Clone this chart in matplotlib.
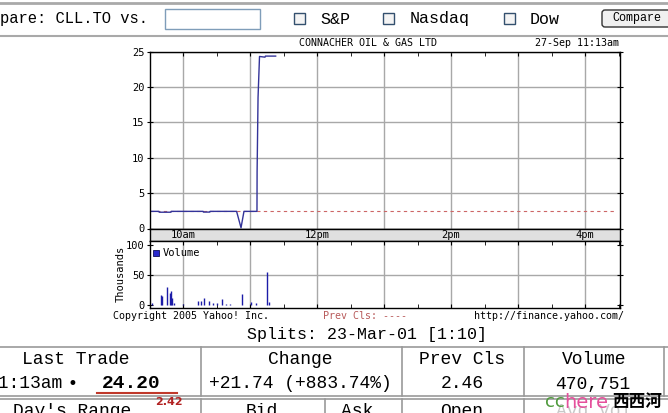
import matplotlib
matplotlib.use('Agg')
import matplotlib.pyplot as plt
from matplotlib.patches import Rectangle, FancyBboxPatch

W, H = 668, 413

# intraday trades CLL.TO, 27-Sep (hour of day, price)
price_time = [9.50, 9.64, 9.645, 9.82, 9.825, 10.30, 10.305, 10.40, 10.405,
              10.80, 10.866, 10.91, 11.104, 11.106, 11.12, 11.142, 11.224,
              11.23, 11.383]
price = [2.42, 2.42, 2.30, 2.30, 2.42, 2.42, 2.32, 2.32, 2.42,
         2.42, 0.10, 2.42, 2.42, 8.0, 18.5, 24.3, 24.2,
         24.35, 24.35]
prev_close = 2.42

# volume in thousands
vol_time = [9.530, 9.667, 9.691, 9.766, 9.806, 9.821, 9.836, 9.866, 10.0,
            10.228, 10.269, 10.313, 10.393, 10.452, 10.512, 10.582, 10.642,
            10.701, 10.876, 11.010, 11.090, 11.258, 11.288]
vol_k = [3, 17, 15, 31, 20, 24, 12, 3, 2,
         7, 8, 12, 8, 3, 3, 10, 2,
         2, 19, 5, 3, 56, 5]

price_ticks = [0, 5, 10, 15, 20, 25]
vol_ticks = [0, 50, 100]
hours = [10, 11, 12, 13, 14, 15, 16]
half_hours = [9.5, 10.5, 11.5, 12.5, 13.5, 14.5, 15.5, 16.5]
hour_labels = {10: '10am', 12: '12pm', 14: '2pm', 16: '4pm'}

CHART_FONT = 'DejaVu Sans Mono'
PAGE_FONT = 'Liberation Mono'
GRID = '#a8a8a8'
LINE = '#333399'
BARS = '#1c1ca8'


def box(x0, y0, x1, y1):
    # pixel box (top-left origin) -> figure fraction rect
    return [x0 / W, 1 - y1 / H, (x1 - x0) / W, (y1 - y0) / H]


fig = plt.figure(figsize=(W / 100, H / 100), dpi=100)
fig.patch.set_facecolor('white')

# page layer in pixel coordinates
pg = fig.add_axes([0, 0, 1, 1], zorder=0)
pg.set_xlim(0, W)
pg.set_ylim(H, 0)
pg.axis('off')

x_lo, x_hi = 9.5, 9.5 + (620 - 149.5) / 67

# price panel
ax = fig.add_axes(box(149.5, 51.5, 620, 228.5), zorder=2)
ax.axhline(prev_close, xmax=0.99, color='#cc6666', lw=0.8, ls=(0, (3, 3)))
ax.plot(price_time, price, color=LINE, lw=1)
ax.set_xlim(x_lo, x_hi)
ax.set_ylim(0, 25)
ax.set_yticks(price_ticks)
ax.set_xticks(hours)
ax.set_xticks(half_hours, minor=True)
ax.grid(True, color=GRID, lw=1)
ax.tick_params(axis='x', which='both', direction='in', top=True, bottom=False,
               labelbottom=False, length=3)
ax.tick_params(axis='y', direction='inout', right=True, length=5,
               labelsize=7.5, pad=1)

# time band
band = fig.add_axes(box(149.5, 228.5, 620, 241), zorder=2)
band.set_facecolor('#e0e0e0')
band.set_xlim(x_lo, x_hi)
band.set_ylim(0, 1)
band.set_xticks([])
band.set_yticks([])
for h, lab in hour_labels.items():
    band.text(h, 0.45, lab, ha='center', va='center', fontsize=7.5,
              family=CHART_FONT)

# volume panel
vx = fig.add_axes(box(149.5, 241, 620, 307.5), zorder=2)
vx.vlines(vol_time, 0, vol_k, color=BARS, lw=1)
vx.set_xlim(x_lo, x_hi)
vx.set_ylim(-3.7, 107.5)
vx.set_yticks(vol_ticks)
vx.set_xticks(hours)
vx.set_xticks(half_hours, minor=True)
vx.grid(True, axis='x', color=GRID, lw=1)
vx.axhline(50, color=GRID, lw=1, zorder=0)
vx.tick_params(axis='x', which='both', direction='in', top=True, bottom=True,
               labelbottom=False, length=3)
vx.tick_params(axis='y', direction='inout', right=True, length=5,
               labelsize=7.5, pad=1)
vx.add_patch(Rectangle((0.008, 0.78), 0.013, 0.09, transform=vx.transAxes,
                       facecolor='#2a2acc', edgecolor='#10105a', lw=0.6))
vx.text(0.027, 0.825, 'Volume', transform=vx.transAxes, va='center',
        fontsize=7.5, family=CHART_FONT)

for a in (ax, band, vx):
    for s in a.spines.values():
        s.set_color('black')
        s.set_linewidth(1)
    for lab in a.get_yticklabels():
        lab.set_family(CHART_FONT)

pg.text(121, 274, 'Thousands', rotation=90, ha='center', va='center',
        fontsize=7.5, family=CHART_FONT)
pg.text(368, 43, 'CONNACHER OIL & GAS LTD', ha='center', va='center',
        fontsize=7.2, family=CHART_FONT)
pg.text(619, 43, '27-Sep 11:13am', ha='right', va='center',
        fontsize=7.2, family=CHART_FONT)
pg.text(113, 316, 'Copyright 2005 Yahoo! Inc.', va='center',
        fontsize=7.2, family=CHART_FONT)
pg.text(323, 316, 'Prev Cls: ----', va='center', color='#b85a5a',
        fontsize=7.2, family=CHART_FONT)
pg.text(474, 316, 'http://finance.yahoo.com/', va='center',
        fontsize=7.2, family=CHART_FONT)

# compare toolbar
pg.plot([0, W], [3, 3], color='#a9a9a9', lw=2)
pg.plot([0, W], [36, 36], color='#a9a9a9', lw=1.5)
pg.text(0, 19, 'pare: CLL.TO vs.', va='center', fontsize=11.2,
        family=PAGE_FONT)
pg.add_patch(Rectangle((165, 9), 95, 20, facecolor='white',
                       edgecolor='#7f9db9', lw=1))
for bx, lab, tx in [(294, 'S&P', 320), (383, 'Nasdaq', 410), (504, 'Dow', 530)]:
    pg.add_patch(Rectangle((bx, 13), 11, 11, facecolor='#f4f4f4',
                           edgecolor='#33506e', lw=1))
    pg.text(tx, 19, lab, va='center', fontsize=12, family=PAGE_FONT)
pg.add_patch(FancyBboxPatch((602, 10), 80, 17, boxstyle='round,pad=0,rounding_size=3',
                            facecolor='#f0f0f0', edgecolor='#333333', lw=1))
pg.text(612, 18.5, 'Compare', va='center', fontsize=8.5, family=PAGE_FONT)

pg.text(367, 334, 'Splits: 23-Mar-01 [1:10]', ha='center', va='center',
        fontsize=12, family=PAGE_FONT)

# quote table
TB = '#999999'
pg.plot([0, W], [347, 347], color=TB, lw=1.2)
pg.plot([0, W], [396, 396], color=TB, lw=1.2)
pg.plot([0, W], [398.5, 398.5], color=TB, lw=1.2)
for xv in [201, 402, 524, 664]:
    pg.plot([xv, xv], [347, 396], color=TB, lw=1.2)
for xv in [201, 325, 402, 524]:
    pg.plot([xv, xv], [398.5, H], color=TB, lw=1.2)

row1 = [(76, 'Last Trade'), (300, 'Change'), (462, 'Prev Cls'), (594, 'Volume')]
for xc, lab in row1:
    pg.text(xc, 360, lab, ha='center', va='center', fontsize=13, family=PAGE_FONT)
pg.text(63, 384, '11:13am', ha='right', va='center', fontsize=13, family=PAGE_FONT)
pg.text(72, 384, '•', ha='center', va='center', fontsize=12, family='DejaVu Sans')
pg.text(102, 384, '24.20', va='center', fontsize=14, family=PAGE_FONT,
        fontweight='bold')
pg.plot([97, 177], [393, 393], color='#c0392b', lw=1.5)
pg.text(169, 402, '2.42', ha='center', va='center', fontsize=8,
        fontweight='bold', color='#b22222', family='DejaVu Sans')
pg.text(300, 384, '+21.74 (+883.74%)', ha='center', va='center', fontsize=13,
        family=PAGE_FONT)
pg.text(462, 384, '2.46', ha='center', va='center', fontsize=13, family=PAGE_FONT)
pg.text(593, 384, '470,751', ha='center', va='center', fontsize=13, family=PAGE_FONT)

row2 = [(72, "Day's Range", 'black'), (262, 'Bid', 'black'), (357, 'Ask', 'black'),
        (462, 'Open', 'black'), (594, 'Avg Vol', '#c8c8c8')]
for xc, lab, col in row2:
    pg.text(xc, 411, lab, ha='center', va='center', fontsize=13,
            family=PAGE_FONT, color=col)

# watermark
pg.text(545, 402, 'cc', va='center', fontsize=13, color='#4f9a3c',
        family='DejaVu Sans')
pg.text(564, 402, 'here', va='center', fontsize=14, color='#e5509c',
        family='DejaVu Sans')
pg.text(612, 402, '西西河', va='center', fontsize=12, fontweight='bold',
        family=['Noto Sans CJK SC', 'DejaVu Sans'])

fig.savefig('out.png', dpi=100)
